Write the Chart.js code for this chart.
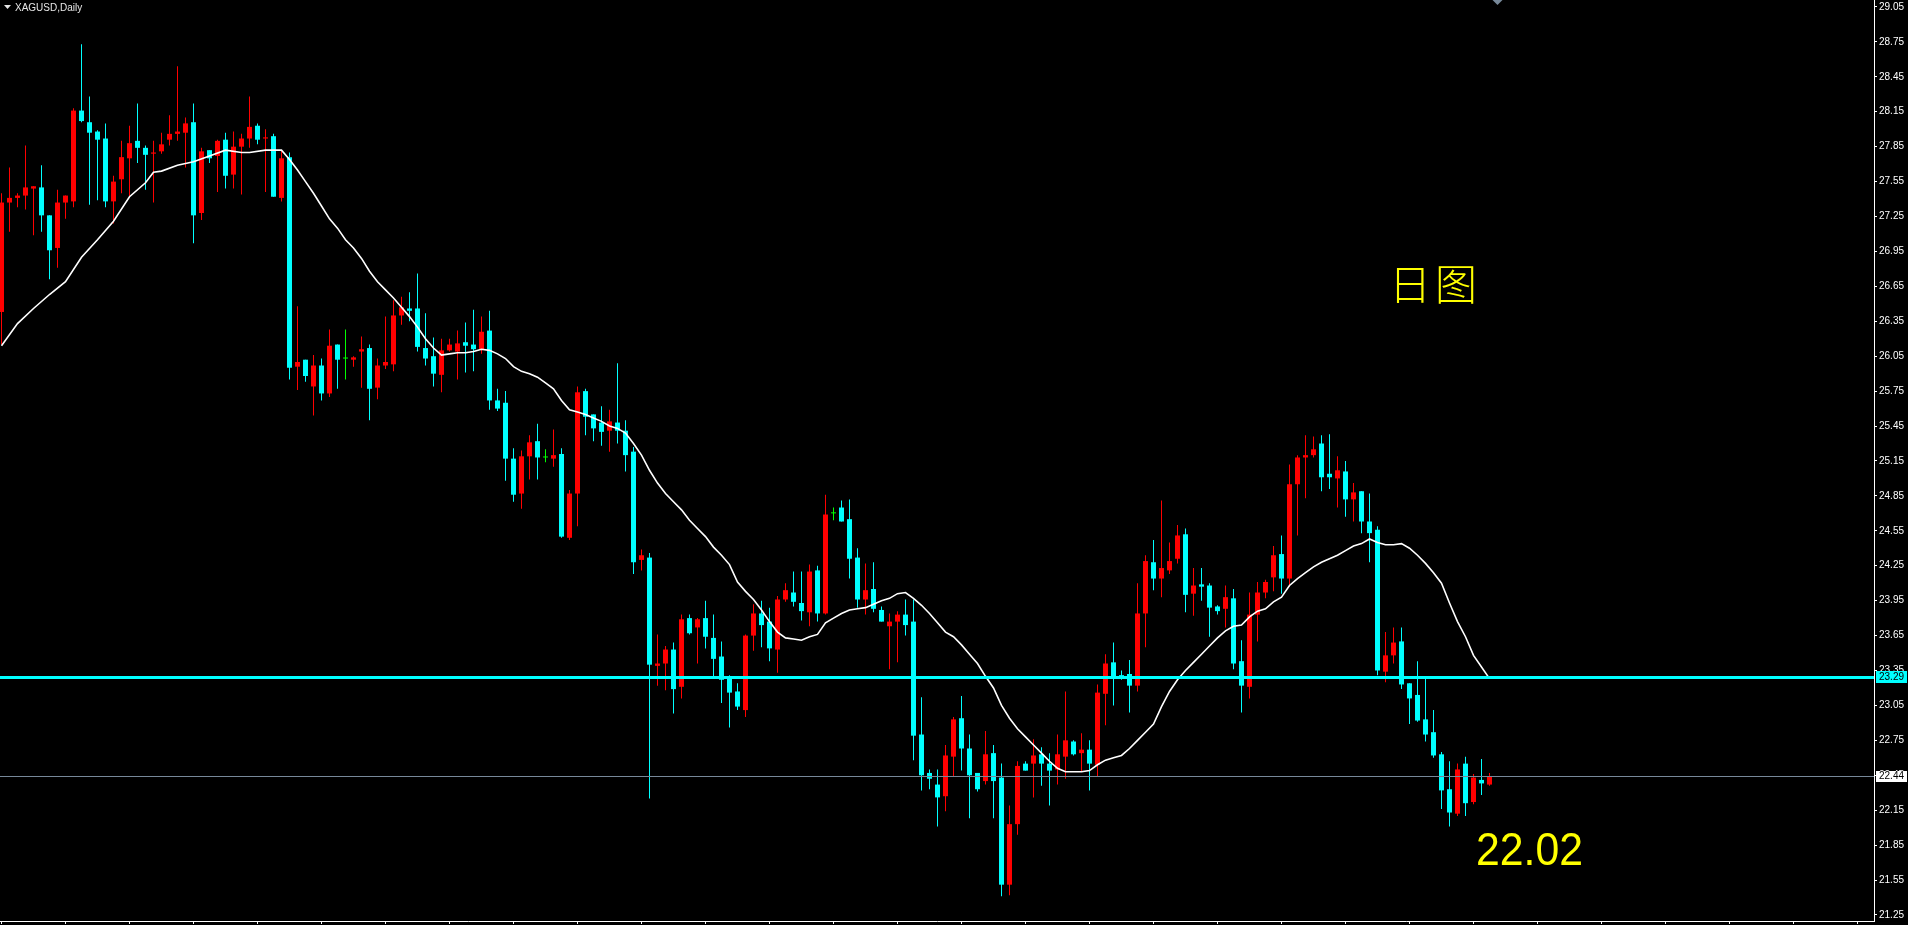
<!DOCTYPE html>
<html>
<head>
<meta charset="utf-8">
<title>XAGUSD,Daily</title>
<script src="https://cdn.jsdelivr.net/npm/chart.js@4.4.1/dist/chart.umd.min.js"></script>
<style>
  html, body { margin: 0; padding: 0; background: #000; overflow: hidden; }
  canvas { display: block; background: #000; }
</style>
</head>
<body>
<canvas id="chart" width="1908" height="925"></canvas>
<script>
// daily candles (oldest first)
const symbolTitle = 'XAGUSD,Daily';

const opens = [
  26.43, 27.37, 27.41, 27.43, 27.49, 27.50, 27.26, 26.98, 27.37, 27.38,
  28.16, 28.06, 27.98, 27.92, 27.38, 27.57, 27.75, 27.90, 27.84, 27.79,
  27.81, 27.91, 27.96, 27.97, 28.06, 27.28, 27.82, 27.77, 27.91, 27.61,
  27.85, 27.92, 28.03, 27.92, 27.94, 27.41, 27.76, 25.96, 26.02, 25.79,
  25.97, 25.73, 26.15, 26.03, 26.02, 26.09, 26.12, 25.78, 25.97, 25.98,
  26.40, 26.46, 26.46, 26.12, 26.05, 25.89, 26.10, 26.09, 26.17, 26.15,
  26.11, 26.27, 25.67, 25.65, 25.17, 24.87, 25.19, 25.32, 25.18, 25.17,
  25.21, 24.49, 24.87, 25.75, 25.55, 25.48, 25.41, 25.48, 25.41, 25.23,
  24.30, 24.32, 23.39, 23.41, 23.53, 23.21, 23.80, 23.72, 23.80, 23.63,
  23.47, 23.30, 23.17, 23.01, 23.65, 23.84, 23.77, 23.53, 23.96, 24.02,
  23.93, 23.85, 24.21, 23.84, 24.70, 24.75, 24.65, 24.32, 23.96, 24.05,
  23.87, 23.73, 23.77, 23.83, 23.77, 22.80, 22.47, 22.37, 22.27, 22.61,
  22.94, 22.68, 22.47, 22.40, 22.64, 22.43, 21.51, 22.03, 22.55, 22.55,
  22.63, 22.55, 22.50, 22.61, 22.74, 22.64, 22.67, 22.54, 23.15, 23.42,
  23.31, 23.32, 23.22, 23.84, 24.28, 24.14, 24.21, 24.31, 24.52, 24.01,
  24.09, 24.08, 23.90, 23.88, 23.97, 23.43, 23.21, 23.83, 24.02, 24.15,
  24.35, 24.14, 24.95, 25.18, 25.20, 25.30, 25.04, 25.00, 25.06, 24.82,
  24.89, 24.63, 24.56, 23.34, 23.48, 23.60, 23.24, 23.14, 22.93, 22.82,
  22.63, 22.33, 22.12, 22.55, 22.22, 22.41, 22.37
];
const highs = [
  27.45, 27.67, 27.45, 27.86, 27.51, 27.69, 27.26, 27.48, 27.43, 28.18,
  28.73, 28.28, 27.99, 28.05, 27.60, 27.90, 28.03, 28.22, 27.86, 27.90,
  27.97, 28.12, 28.54, 28.10, 28.22, 27.84, 27.82, 27.91, 27.97, 27.98,
  27.96, 28.28, 28.05, 28.00, 27.96, 27.82, 27.80, 26.48, 26.02, 26.06,
  26.03, 26.28, 26.15, 26.28, 26.05, 26.22, 26.15, 26.03, 26.39, 26.53,
  26.56, 26.60, 26.76, 26.42, 26.21, 26.20, 26.20, 26.27, 26.34, 26.45,
  26.39, 26.44, 25.77, 25.75, 25.26, 25.24, 25.37, 25.47, 25.25, 25.42,
  25.26, 24.90, 25.79, 25.77, 25.55, 25.62, 25.59, 25.99, 25.50, 25.27,
  24.39, 24.36, 23.66, 23.56, 23.59, 23.83, 23.83, 23.80, 23.95, 23.83,
  23.60, 23.31, 23.24, 23.66, 23.92, 23.95, 23.89, 23.99, 24.10, 24.20,
  24.20, 24.26, 24.25, 24.86, 24.75, 24.81, 24.82, 24.40, 24.27, 24.28,
  23.90, 23.84, 23.86, 23.96, 23.96, 23.12, 22.50, 22.50, 22.71, 22.95,
  23.13, 22.80, 22.47, 22.83, 22.71, 22.55, 22.19, 22.57, 22.57, 22.76,
  22.69, 22.64, 22.80, 23.17, 22.75, 22.81, 22.75, 23.23, 23.49, 23.59,
  23.35, 23.44, 24.10, 24.34, 24.47, 24.81, 24.45, 24.60, 24.57, 24.23,
  24.23, 24.10, 23.91, 24.08, 24.05, 23.61, 24.02, 24.11, 24.13, 24.42,
  24.51, 25.12, 25.20, 25.37, 25.36, 25.37, 25.38, 25.19, 25.15, 24.96,
  24.89, 24.87, 24.59, 23.68, 23.72, 23.72, 23.24, 23.43, 23.29, 23.01,
  22.65, 22.57, 22.55, 22.61, 22.46, 22.59, 22.47
];
const lows = [
  26.15, 27.12, 27.33, 27.31, 27.09, 27.12, 26.71, 26.81, 27.23, 27.33,
  28.06, 27.35, 27.39, 27.33, 27.19, 27.45, 27.42, 27.71, 27.48, 27.37,
  27.79, 27.86, 27.90, 27.67, 27.02, 27.22, 27.71, 27.46, 27.49, 27.49,
  27.44, 27.84, 27.87, 27.46, 27.42, 27.38, 25.85, 25.76, 25.83, 25.54,
  25.67, 25.70, 25.77, 25.85, 25.96, 25.78, 25.50, 25.68, 25.94, 25.92,
  26.32, 26.35, 26.09, 25.97, 25.79, 25.74, 26.09, 25.85, 25.91, 25.92,
  26.07, 25.59, 25.58, 24.98, 24.80, 24.74, 24.99, 24.99, 25.14, 25.10,
  24.49, 24.47, 24.59, 25.37, 25.32, 25.28, 25.23, 25.30, 25.06, 24.18,
  24.21, 22.25, 23.22, 23.18, 22.98, 23.11, 23.66, 23.41, 23.54, 23.29,
  23.07, 22.86, 23.01, 22.95, 23.52, 23.55, 23.43, 23.33, 23.94, 23.90,
  23.78, 23.73, 23.77, 23.83, 24.64, 24.63, 24.14, 23.89, 23.83, 23.85,
  23.77, 23.36, 23.42, 23.65, 22.58, 22.32, 22.33, 22.01, 22.14, 22.44,
  22.49, 22.08, 22.31, 22.37, 22.08, 21.41, 21.42, 21.94, 22.49, 22.26,
  22.36, 22.19, 22.37, 22.42, 22.62, 22.48, 22.32, 22.44, 22.88, 23.05,
  23.27, 22.99, 23.17, 23.55, 24.04, 23.98, 24.18, 24.27, 23.85, 23.82,
  23.95, 23.64, 23.83, 23.72, 23.36, 22.99, 23.11, 23.60, 23.97, 24.03,
  24.01, 24.07, 24.51, 24.83, 25.18, 24.89, 24.91, 24.75, 24.67, 24.63,
  24.53, 24.28, 23.31, 23.25, 23.41, 23.19, 22.89, 22.91, 22.74, 22.60,
  22.16, 22.01, 22.10, 22.10, 22.20, 22.28, 22.36
];
const closes = [
  27.37, 27.41, 27.43, 27.50, 27.51, 27.26, 26.96, 27.37, 27.43, 28.16,
  28.07, 27.97, 27.91, 27.38, 27.55, 27.76, 27.88, 27.84, 27.78, 27.80,
  27.87, 27.96, 27.98, 28.05, 27.26, 27.81, 27.75, 27.90, 27.60, 27.85,
  27.92, 28.02, 27.91, 27.93, 27.42, 27.75, 25.95, 26.00, 25.88, 25.97,
  25.73, 26.14, 26.02, 26.03, 26.04, 26.11, 25.77, 25.97, 26.00, 26.40,
  26.47, 26.44, 26.13, 26.03, 25.90, 26.10, 26.15, 26.16, 26.14, 26.11,
  26.26, 25.67, 25.60, 25.17, 24.86, 25.19, 25.31, 25.18, 25.18, 25.20,
  24.50, 24.87, 25.74, 25.53, 25.43, 25.40, 25.49, 25.41, 25.20, 24.28,
  24.34, 23.40, 23.41, 23.53, 23.19, 23.79, 23.67, 23.79, 23.64, 23.45,
  23.27, 23.16, 23.04, 23.65, 23.84, 23.74, 23.54, 23.96, 24.04, 23.94,
  23.86, 24.20, 23.84, 24.69, 24.70, 24.63, 24.31, 23.96, 24.04, 23.88,
  23.77, 23.77, 23.83, 23.74, 22.79, 22.45, 22.42, 22.26, 22.62, 22.93,
  22.68, 22.45, 22.33, 22.63, 22.40, 21.51, 22.03, 22.53, 22.49, 22.62,
  22.55, 22.49, 22.63, 22.75, 22.63, 22.67, 22.55, 23.16, 23.41, 23.29,
  23.29, 23.22, 23.84, 24.29, 24.14, 24.23, 24.29, 24.51, 24.00, 24.08,
  24.07, 23.89, 23.86, 23.98, 23.41, 23.22, 23.83, 24.02, 24.11, 24.34,
  24.14, 24.95, 25.18, 25.20, 25.25, 25.01, 25.01, 25.07, 24.82, 24.88,
  24.63, 24.53, 23.35, 23.48, 23.59, 23.23, 23.11, 22.92, 22.80, 22.62,
  22.32, 22.13, 22.50, 22.21, 22.43, 22.38, 22.44
];

// white moving average, read where it could be read (null = not read)
const ma = [
  26.14, null, 26.33, null, 26.46, null, 26.58, null, 26.69, null,
  26.90, null, 27.05, null, 27.21, null, 27.42, null, 27.54, 27.63,
  27.64, null, 27.69, null, 27.72, null, 27.77, null, 27.82, null,
  27.80, 27.80, null, 27.82, null, 27.82, 27.74, 27.65, 27.55, 27.45,
  27.34, 27.23, 27.15, 27.05, 26.98, 26.89, 26.78, 26.69, 26.62, 26.55,
  26.47, 26.39, 26.30, 26.20, 26.12, 26.06, 26.07, 26.08, 26.08, 26.09,
  26.11, 26.10, 26.07, 26.03, 25.96, 25.92, 25.90, 25.87, 25.82, 25.77,
  25.67, 25.59, 25.57, 25.55, 25.52, 25.49, 25.45, 25.43, 25.39, 25.30,
  25.20, 25.07, 24.96, 24.87, 24.80, 24.73, 24.64, 24.57, 24.50, 24.41,
  24.34, 24.26, 24.11, 24.03, 23.96, 23.87, 23.77, 23.68, 23.63, 23.62,
  23.61, 23.64, 23.66, 23.76, 23.80, 23.84, 23.87, 23.88, 23.89, 23.92,
  23.95, 23.97, 24.01, 24.02, 23.97, 23.91, 23.84, 23.76, 23.68, 23.64,
  23.57, 23.49, 23.41, 23.30, 23.20, 23.05, 22.94, 22.85, 22.78, 22.71,
  22.64, 22.57, 22.51, 22.48, 22.48, 22.48, 22.49, 22.54, 22.58, 22.60,
  22.62, 22.68, 22.75, 22.82, 22.89, 23.04, 23.17, 23.27, 23.35, 23.42,
  23.49, 23.56, 23.63, 23.69, 23.73, 23.74, 23.81, 23.86, 23.88, 23.94,
  23.98, 24.08, 24.14, 24.19, 24.24, 24.28, 24.31, 24.34, 24.38, 24.42,
  24.44, 24.48, 24.45, 24.43, 24.43, 24.44, 24.40, 24.34, 24.27, 24.19,
  24.10, 23.93, 23.77, 23.64, 23.48, 23.38, 23.28
];

const levelPrice = 23.29;                       // cyan horizontal line
const lastPrice = closes[closes.length - 1];    // grey bid line

const yTicks = [
  29.05, 28.75, 28.45, 28.15, 27.85, 27.55, 27.25, 26.95, 26.65,
  26.35, 26.05, 25.75, 25.45, 25.15, 24.85, 24.55, 24.25, 23.95,
  23.65, 23.35, 23.05, 22.75, 22.45, 22.15, 21.85, 21.55, 21.25
];

const periodNote = '日图';
const priceNote = '22.02';

const bars = opens.map((_, i) => i);

// visible window: 8px per bar, empty space on the right
const xMin = -0.1875;
const xMax = 234.0625;
const yMin = 21.198;
const yMax = 29.110;

const xTicks = [];
for (let k = 0; k <= xMax; k += 8) xTicks.push(k);

const UP = '#ff0000';
const DOWN = '#00ffff';
const FLAT = '#00ff00';
const candleColors = bars.map(i =>
  closes[i] > opens[i] ? UP : (closes[i] < opens[i] ? DOWN : FLAT));

const overlay = {
  id: 'overlay',
  afterDatasetsDraw(chart) {
    const { ctx, chartArea: a, scales: { y } } = chart;
    ctx.save();
    const ly = Math.round(y.getPixelForValue(levelPrice));
    ctx.fillStyle = '#00ffff';
    ctx.fillRect(a.left, ly - 1, a.right - a.left, 3);
    const by = Math.round(y.getPixelForValue(lastPrice));
    ctx.fillStyle = '#778899';
    ctx.fillRect(a.left, by, a.right - a.left, 1);
    ctx.restore();
  },
  afterDraw(chart) {
    const { ctx, chartArea: a, scales: { x, y } } = chart;
    ctx.save();
    ctx.font = '10px "Liberation Sans", Arial, sans-serif';
    ctx.textBaseline = 'middle';
    ctx.textAlign = 'left';

    // price tags on the axis
    const ly = Math.round(y.getPixelForValue(levelPrice));
    ctx.fillStyle = '#00ffff';
    ctx.fillRect(a.right + 2, ly - 6, 31, 12);
    ctx.fillStyle = '#000';
    ctx.fillText(levelPrice.toFixed(2), a.right + 5, ly + 0.5);

    const by = Math.round(y.getPixelForValue(lastPrice));
    ctx.fillStyle = '#ffffff';
    ctx.fillRect(a.right + 2, by - 5, 31, 11);
    ctx.fillStyle = '#000';
    ctx.fillText(lastPrice.toFixed(2), a.right + 5, by + 0.5);

    // title
    ctx.fillStyle = '#e6e6e6';
    ctx.beginPath();
    ctx.moveTo(4, 5);
    ctx.lineTo(11, 5);
    ctx.lineTo(7.5, 9);
    ctx.closePath();
    ctx.fill();
    ctx.fillText(symbolTitle, 15, 8);

    // chart shift marker
    const sx = x.getPixelForValue(bars.length);
    ctx.fillStyle = '#778899';
    ctx.beginPath();
    ctx.moveTo(sx - 5, 0);
    ctx.lineTo(sx + 5, 0);
    ctx.lineTo(sx, 5);
    ctx.closePath();
    ctx.fill();

    // notes
    ctx.fillStyle = '#ffff00';
    ctx.textAlign = 'center';
    ctx.font = '300 42px "Noto Sans CJK SC", sans-serif';
    const chars = Array.from(periodNote);
    ctx.fillText(chars[0], 1410, 284);
    ctx.fillText(chars[1], 1456, 284);

    ctx.textAlign = 'left';
    ctx.textBaseline = 'alphabetic';
    ctx.font = '46px "Liberation Sans", Arial, sans-serif';
    ctx.translate(1476, 865);
    ctx.scale(0.93, 1);
    ctx.fillText(priceNote, 0, 0);
    ctx.restore();
  }
};

const ctx = document.getElementById('chart').getContext('2d');
new Chart(ctx, {
  type: 'bar',
  data: {
    datasets: [
      {
        type: 'line',
        label: 'MA',
        data: bars.map(i => ({ x: i, y: ma[i] })),
        borderColor: '#ffffff',
        borderWidth: 1.6,
        pointRadius: 0,
        spanGaps: true,
        tension: 0,
        order: 0,
      },
      {
        label: 'body',
        data: bars.map(i => ({ x: i, y: [opens[i], closes[i]] })),
        backgroundColor: candleColors,
        borderWidth: 0,
        barThickness: 5,
        minBarLength: 1,
        grouped: false,
        inflateAmount: 0,
        order: 1,
      },
      {
        label: 'wick',
        data: bars.map(i => ({ x: i, y: [lows[i], highs[i]] })),
        backgroundColor: candleColors,
        borderWidth: 0,
        barThickness: 1,
        minBarLength: 1,
        grouped: false,
        inflateAmount: 0,
        order: 2,
      },
    ],
  },
  options: {
    responsive: false,
    animation: false,
    events: [],
    layout: { padding: 0 },
    plugins: {
      legend: { display: false },
      tooltip: { enabled: false },
    },
    scales: {
      x: {
        type: 'linear',
        min: xMin,
        max: xMax,
        offset: false,
        grid: { offset: false, drawOnChartArea: false, drawTicks: true, tickLength: 3, color: '#ffffff' },
        border: { display: true, color: '#ffffff', width: 1 },
        ticks: { display: false },
        afterBuildTicks: s => { s.ticks = xTicks.map(v => ({ value: v })); },
        afterFit: s => { s.height = 4; s.paddingLeft = 0; s.paddingRight = 0; },
      },
      y: {
        type: 'linear',
        position: 'right',
        min: yMin,
        max: yMax,
        beginAtZero: false,
        grid: { drawOnChartArea: false, drawTicks: true, tickLength: 3, color: '#ffffff' },
        border: { display: true, color: '#ffffff', width: 1 },
        ticks: {
          color: '#ffffff',
          padding: 2,
          autoSkip: false,
          font: { size: 10, family: '"Liberation Sans", Arial, sans-serif' },
          callback: v => Number(v).toFixed(2),
        },
        afterBuildTicks: s => { s.ticks = yTicks.map(v => ({ value: v })); },
        afterFit: s => { s.width = 34; s.paddingTop = 0; s.paddingBottom = 0; },
      },
    },
  },
  plugins: [overlay],
});
</script>
</body>
</html>
